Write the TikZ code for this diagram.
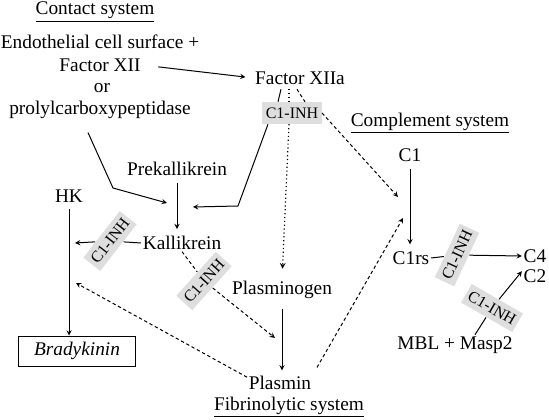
\documentclass[tikz,border=0pt]{standalone}
\usepackage{fontspec}
\setmainfont{Liberation Serif}
\usetikzlibrary{calc}
\tikzset{
  lbl/.style={inner sep=1pt, font=\fontsize{14.5}{17}\selectfont},
  inh/.style={fill=black!13, inner xsep=2.5pt, inner ysep=4pt, font=\fontsize{12}{13}\selectfont},
  dots/.style={dotted, line width=0.9pt},
  dashes/.style={dash pattern=on 2.5pt off 2pt},
}
\begin{document}
\begin{tikzpicture}[x=0.75pt,y=-0.75pt,>=stealth,line width=0.75pt]
\useasboundingbox (0,0) rectangle (549,420);
% headings
\node[lbl] (hcon) at (95,12) {\underline{Contact system}};
\node[lbl] (hcom) at (430,123) {\underline{Complement system}};
\node[lbl] (hfib) at (289,407) {\underline{Fibrinolytic system}};
% contact system
\node[lbl] (endo) at (100,42) {Endothelial cell surface +};
\node[lbl] (fxii) at (100,65) {Factor XII};
\node[lbl] (orr) at (102,88) {or};
\node[lbl] (prolyl) at (100,110) {prolylcarboxypeptidase};
\node[lbl] (fxa) at (300,78) {Factor XIIa};
\node[inh] (ifx) at (292,113) {C1-INH};
\node[lbl] (prek) at (177,169) {Prekallikrein};
\node[lbl] (hk) at (69,196) {HK};
\node[lbl] (kal) at (182,243) {Kallikrein};
\node[inh,rotate=52] (ik) at (110,241) {C1-INH};
\node[inh,rotate=48] (ikp) at (204,281) {C1-INH};
\node[lbl,draw,minimum width=88pt,minimum height=22.5pt,font=\fontsize{14.5}{17}\selectfont\itshape] (brad) at (77,351) {Bradykinin};
% fibrinolytic system
\node[lbl] (plg) at (282,290) {Plasminogen};
\node[lbl] (pl) at (280,383) {Plasmin};
% complement system
\node[lbl] (c1) at (410,155) {C1};
\node[lbl] (c1rs) at (411,258) {C1rs};
\node[inh,rotate=65] (ic) at (457,255) {C1-INH};
\node[lbl] (c4) at (535,256) {C4};
\node[lbl] (c2) at (535,276) {C2};
\node[inh,rotate=-30] (im) at (492,308) {C1-INH};
\node[lbl] (mbl) at (455,345) {MBL + Masp2};
% bends and free ends
\coordinate (pkbend) at (113,188);
\coordinate (pktip) at (167,203);
\coordinate (fxbend) at (238,206);
\coordinate (fxtip) at (193,207);
\coordinate (hktip) at (75,243);
\coordinate (pltip) at (275,338);
\coordinate (c1tip) at (398,197);
\coordinate (c1tipb) at (403,218);
\coordinate (bktip) at (76,283);
% contact arrows
\draw[->,shorten <=12pt,shorten >=6pt] (fxii.east) -- (fxa.west);
\draw[->] ($(prolyl.south)+(-12,12)$) -- (pkbend) -- (pktip);
\draw ($(fxa.south)+(-19,3)$) -- ($(ifx.north)+(-14,0)$);
\draw[dots] ($(fxa.south)+(-11,3)$) -- ($(ifx.north)+(-3,0)$);
\draw[dashes] ($(fxa.south)+(-3,3)$) -- ($(ifx.north)+(13,0)$);
\draw[->] ($(ifx.south)+(-24,0)$) -- (fxbend) -- (fxtip);
\draw[dots,->,shorten >=8pt] ($(ifx.south)+(-3,0)$) -- (plg.north);
\draw[dashes,->] (ifx.east) -- (c1tip);
\draw[->,shorten <=4pt,shorten >=4pt] (prek.south) -- (prek.south |- kal.north);
\draw (kal.west) -- (ik);
\draw[->] (ik) -- (hktip);
\draw[dashes] (kal.south) -- (ikp);
\draw[dashes,->] (ikp) -- (pltip);
\draw[->,shorten <=4pt] (hk.south) -- (hk.south |- brad.north);
% fibrinolytic arrows
\draw[->,shorten <=6pt,shorten >=3pt] (plg.south) -- (plg.south |- pl.north);
\draw[dashes,->] (pl.170) -- (bktip);
\draw[dashes,->,shorten <=6pt] (pl.north east) -- (c1tipb);
% complement arrows
\draw[->,shorten <=4pt,shorten >=4pt] (c1.south) -- (c1.south |- c1rs.north);
\draw (c1rs.east) -- (ic);
\draw[->] (ic) -- (c4.west);
\draw ($(mbl.north)+(20,0)$) -- (im);
\draw[->] (im) -- (c2.160);
\end{tikzpicture}
\end{document}
